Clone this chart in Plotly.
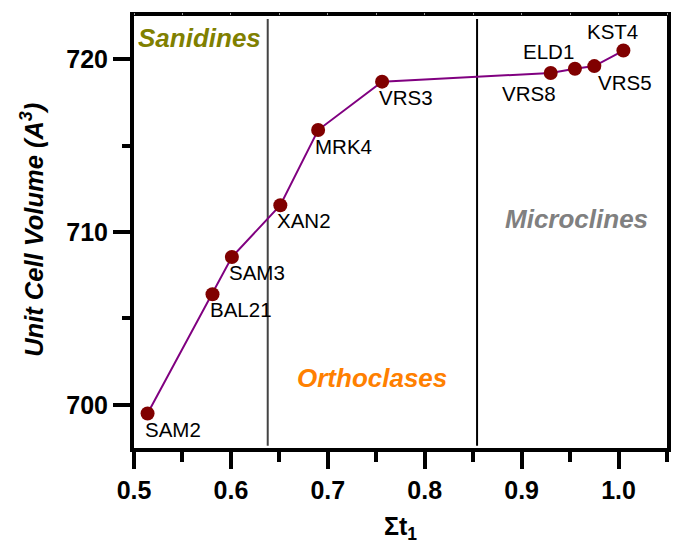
import plotly.graph_objects as go

# Feldspar samples: total Al occupancy of T1 sites vs. unit cell volume
samples = ["SAM2", "BAL21", "SAM3", "XAN2", "MRK4", "VRS3", "VRS8", "ELD1", "VRS5", "KST4"]
sigma_t1 = [0.514, 0.581, 0.601, 0.651, 0.690, 0.756, 0.930, 0.955, 0.975, 1.005]
cell_volume = [699.5, 706.4, 708.55, 711.55, 715.9, 718.7, 719.2, 719.45, 719.6, 720.5]

# Structural-state boundaries along the Σt1 axis
phase_boundaries = [0.638, 0.854]
phase_names = ["Sanidines", "Orthoclases", "Microclines"]

# Label offsets (pixels) and anchors for each sample name
label_style = {
    "SAM2": (-5, -16, "left"),
    "BAL21": (-5, -15, "left"),
    "SAM3": (-5, -15, "left"),
    "XAN2": (-5, -15, "left"),
    "MRK4": (-5, -16, "left"),
    "VRS3": (-5, -16, "left"),
    "VRS8": (7, -20, "right"),
    "ELD1": (1, 17, "right"),
    "VRS5": (2, -16, "left"),
    "KST4": (-11, 19, "center"),
}

FONT = "Liberation Sans, Arial, sans-serif"

fig = go.Figure()
fig.add_trace(go.Scatter(
    x=sigma_t1, y=cell_volume, mode="lines+markers",
    line=dict(color="#800080", width=2),
    marker=dict(color="#800000", size=14, line=dict(width=0)),
    hoverinfo="skip", showlegend=False,
))
# invisible trace to anchor the mirrored tick axes
fig.add_trace(go.Scatter(x=[sigma_t1[0]], y=[cell_volume[0]], xaxis="x2", yaxis="y2",
                         mode="markers", marker=dict(opacity=0), showlegend=False,
                         hoverinfo="skip"))

for xb, col in zip(phase_boundaries, ["#444444", "#000000"]):
    fig.add_shape(type="line", xref="x", yref="paper", x0=xb, x1=xb, y0=0.005, y1=0.993,
                  line=dict(color=col, width=2), layer="below")

for name, x, y in zip(samples, sigma_t1, cell_volume):
    dx, dy, anchor = label_style[name]
    fig.add_annotation(x=x, y=y, text=name, showarrow=False, xanchor=anchor,
                       yanchor="middle", xshift=dx, yshift=dy,
                       font=dict(family=FONT, size=20.5, color="#000000"))

region_font = dict(family=FONT, size=26)
fig.add_annotation(x=0.0, y=0.95, xref="paper", yref="paper", xanchor="left", yanchor="middle",
                   xshift=2, text="<b><i>" + phase_names[0] + "</i></b>", showarrow=False,
                   font=dict(region_font, color="#808000"))
fig.add_annotation(x=(phase_boundaries[0] + phase_boundaries[1]) / 2, y=0.163,
                   xref="x", yref="paper", xanchor="center", yanchor="middle",
                   text="<b><i>" + phase_names[1] + "</i></b>", showarrow=False,
                   font=dict(region_font, color="#FF8000"))
fig.add_annotation(x=0.968, y=0.53, xref="paper", yref="paper", xanchor="right", yanchor="middle",
                   text="<b><i>" + phase_names[2] + "</i></b>", showarrow=False,
                   font=dict(region_font, color="#808080"))

# axis titles
fig.add_annotation(x=0.5, y=0, xref="paper", yref="paper", xanchor="center", yanchor="middle",
                   yshift=-80, text="<b>Σt<sub>1</sub></b>", showarrow=False,
                   font=dict(family=FONT, size=25, color="#000000"))
fig.add_annotation(x=0, y=0.505, xref="paper", yref="paper", xanchor="center", yanchor="middle",
                   xshift=-102, textangle=-90,
                   text="<b><i>Unit Cell Volume (A<sup>3</sup>)</i></b>", showarrow=False,
                   font=dict(family=FONT, size=25.5, color="#000000"))

tickfont = dict(family=FONT, size=25, color="#000000", weight="bold")
fig.update_layout(
    width=678, height=546,
    margin=dict(l=134, r=7, t=16, b=98),
    paper_bgcolor="white", plot_bgcolor="white",
    xaxis=dict(range=[0.5, 1.05], tickvals=[0.5, 0.6, 0.7, 0.8, 0.9, 1.0],
               ticktext=["0.5", "0.6", "0.7", "0.8", "0.9", "1.0"],
               ticks="outside", ticklen=17, tickwidth=4, tickcolor="#000000",
               minor=dict(ticks="outside", ticklen=10, tickwidth=4, tickcolor="#000000", dtick=0.05,
                          tick0=0.5),
               showline=True, linewidth=4, linecolor="#000000", mirror=True,
               showgrid=False, zeroline=False, tickfont=tickfont),
    yaxis=dict(range=[697.5, 722.5], tickvals=[700, 710, 720],
               ticks="outside", ticklen=17, tickwidth=4, tickcolor="#000000",
               minor=dict(ticks="outside", ticklen=8, tickwidth=4, tickcolor="#000000", dtick=5,
                          tick0=700),
               showline=True, linewidth=4, linecolor="#000000", mirror=True,
               showgrid=False, zeroline=False, tickfont=tickfont),
    xaxis2=dict(overlaying="x", side="top", range=[0.5, 1.05], dtick=0.05, tick0=0.5,
                ticks="outside", ticklen=2, tickwidth=1, tickcolor="#999999",
                showticklabels=False, showgrid=False, zeroline=False, showline=False),
    yaxis2=dict(overlaying="y", side="right", range=[697.5, 722.5], dtick=5, tick0=700,
                ticks="outside", ticklen=3, tickwidth=2, tickcolor="#000000",
                showticklabels=False, showgrid=False, zeroline=False, showline=False),
)

fig.write_html("out.html")
